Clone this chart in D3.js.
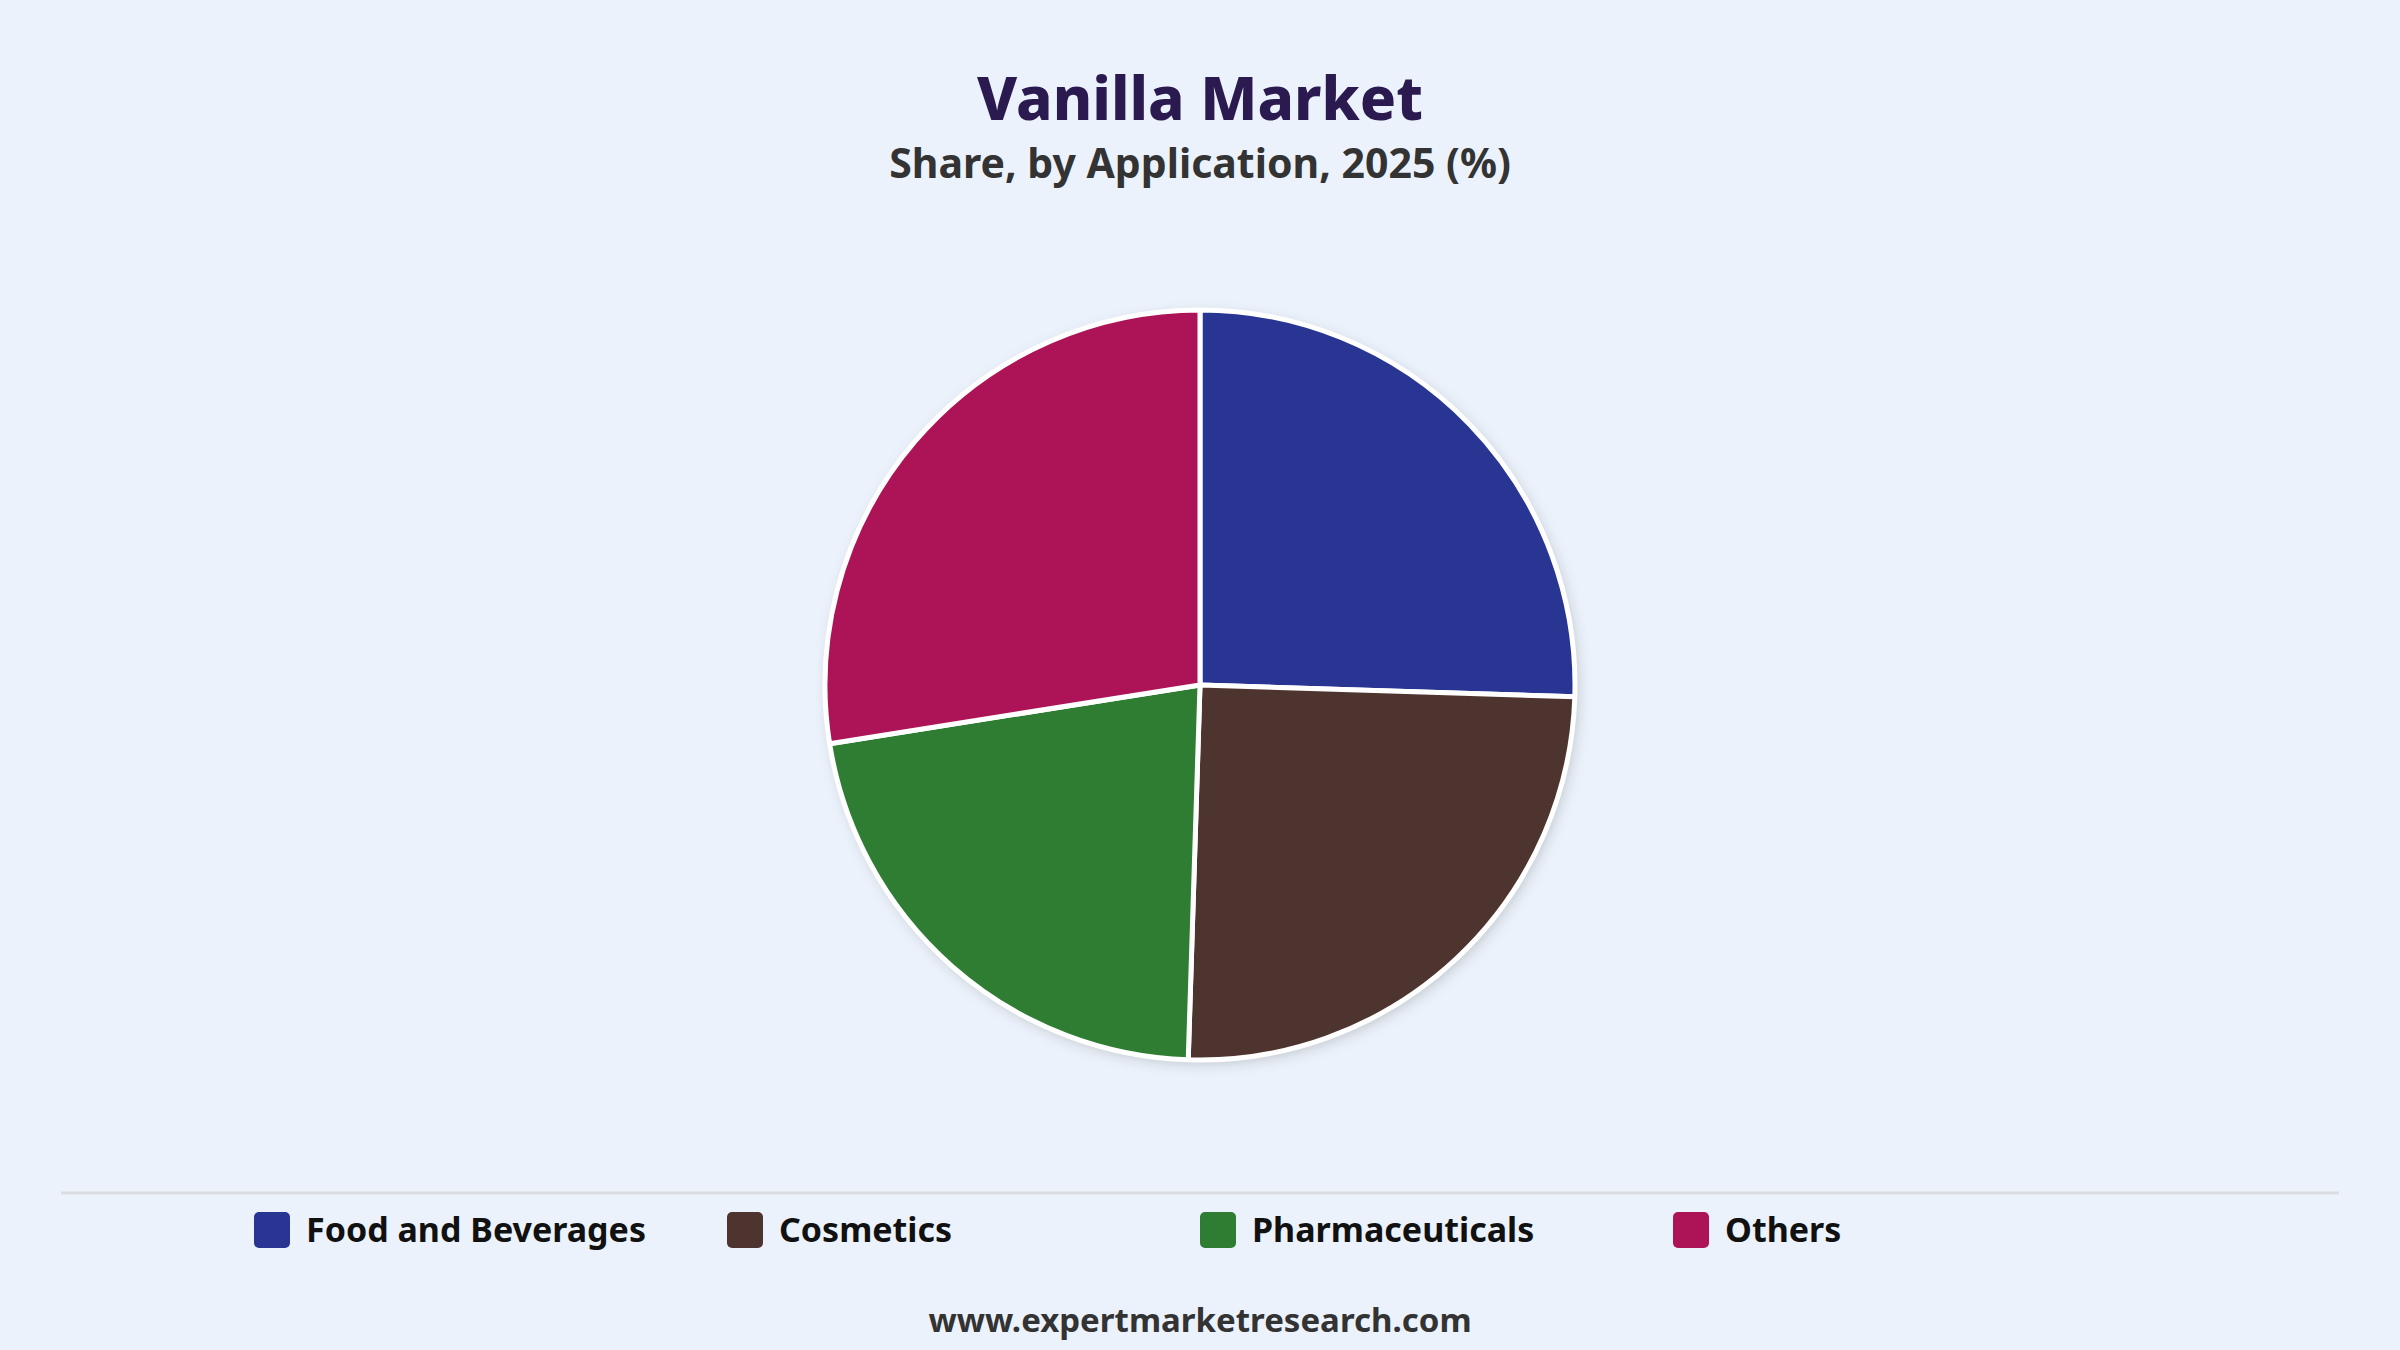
<!DOCTYPE html>
<html>
<head>
<meta charset="utf-8">
<script src="https://cdn.jsdelivr.net/npm/d3@7"></script>
<style>
  html, body { margin: 0; padding: 0; background: #EBF2FB; }
  svg { display: block; }
</style>
</head>
<body>
<svg id="chart" width="2400" height="1350"></svg>
<script>
const categories = ["Food and Beverages", "Cosmetics", "Pharmaceuticals", "Others"];
const values = [25.5, 25.0, 22.0, 27.5];
const colors = ["#283593", "#4E342E", "#2E7D32", "#AD1457"];
const title = "Vanilla Market";
const subtitle = "Share, by Application, 2025 (%)";
const footer = "www.expertmarketresearch.com";

const W = 2400, H = 1350;
const svg = d3.select("#chart");
const font = "'Noto Sans', 'Open Sans', sans-serif";

svg.append("rect").attr("width", W).attr("height", H).attr("fill", "#EBF2FB");

const defs = svg.append("defs");
const f = defs.append("filter").attr("id", "shadow").attr("x", "-20%").attr("y", "-20%").attr("width", "140%").attr("height", "140%");
f.append("feDropShadow").attr("dx", 3).attr("dy", 4).attr("stdDeviation", 7).attr("flood-color", "#000").attr("flood-opacity", 0.18);

svg.append("text").attr("x", W / 2).attr("y", 120).attr("text-anchor", "middle")
  .attr("font-family", font).attr("font-weight", 800).attr("font-size", 60)
  .attr("fill", "#2B1A4F").text(title);
svg.append("text").attr("x", W / 2).attr("y", 178).attr("text-anchor", "middle")
  .attr("font-family", font).attr("font-weight", 700).attr("font-size", 41)
  .attr("fill", "#333333").text(subtitle);

const cx = 1200, cy = 685, r = 375;
const pie = d3.pie().sort(null).value(d => d)(values);
const arc = d3.arc().innerRadius(0).outerRadius(r);
const g = svg.append("g").attr("transform", `translate(${cx},${cy})`);
g.append("circle").attr("r", r).attr("fill", "#fff").attr("filter", "url(#shadow)");
g.selectAll("path").data(pie).enter().append("path")
  .attr("d", arc)
  .attr("fill", (d, i) => colors[i])
  .attr("stroke", "#ffffff").attr("stroke-width", 5).attr("stroke-linejoin", "round");

svg.append("line").attr("x1", 61).attr("x2", 2339).attr("y1", 1193).attr("y2", 1193)
  .attr("stroke", "#DADDE2").attr("stroke-width", 3);

const lx = d3.scaleBand().domain(categories).range([254, 254 + 473 * 4]).paddingInner(0).paddingOuter(0).align(0);
const leg = svg.append("g").selectAll("g").data(categories).enter().append("g")
  .attr("transform", d => `translate(${lx(d)},1212)`);
leg.append("rect").attr("width", 36).attr("height", 36).attr("rx", 5)
  .attr("fill", (d, i) => colors[i]);
leg.append("text").attr("x", 52).attr("y", 30)
  .attr("font-family", font).attr("font-weight", 700).attr("font-size", 34)
  .attr("fill", "#111111").text(d => d);

svg.append("text").attr("x", W / 2).attr("y", 1332).attr("text-anchor", "middle")
  .attr("font-family", font).attr("font-weight", 700).attr("font-size", 33)
  .attr("fill", "#333333").text(footer);
</script>
</body>
</html>
